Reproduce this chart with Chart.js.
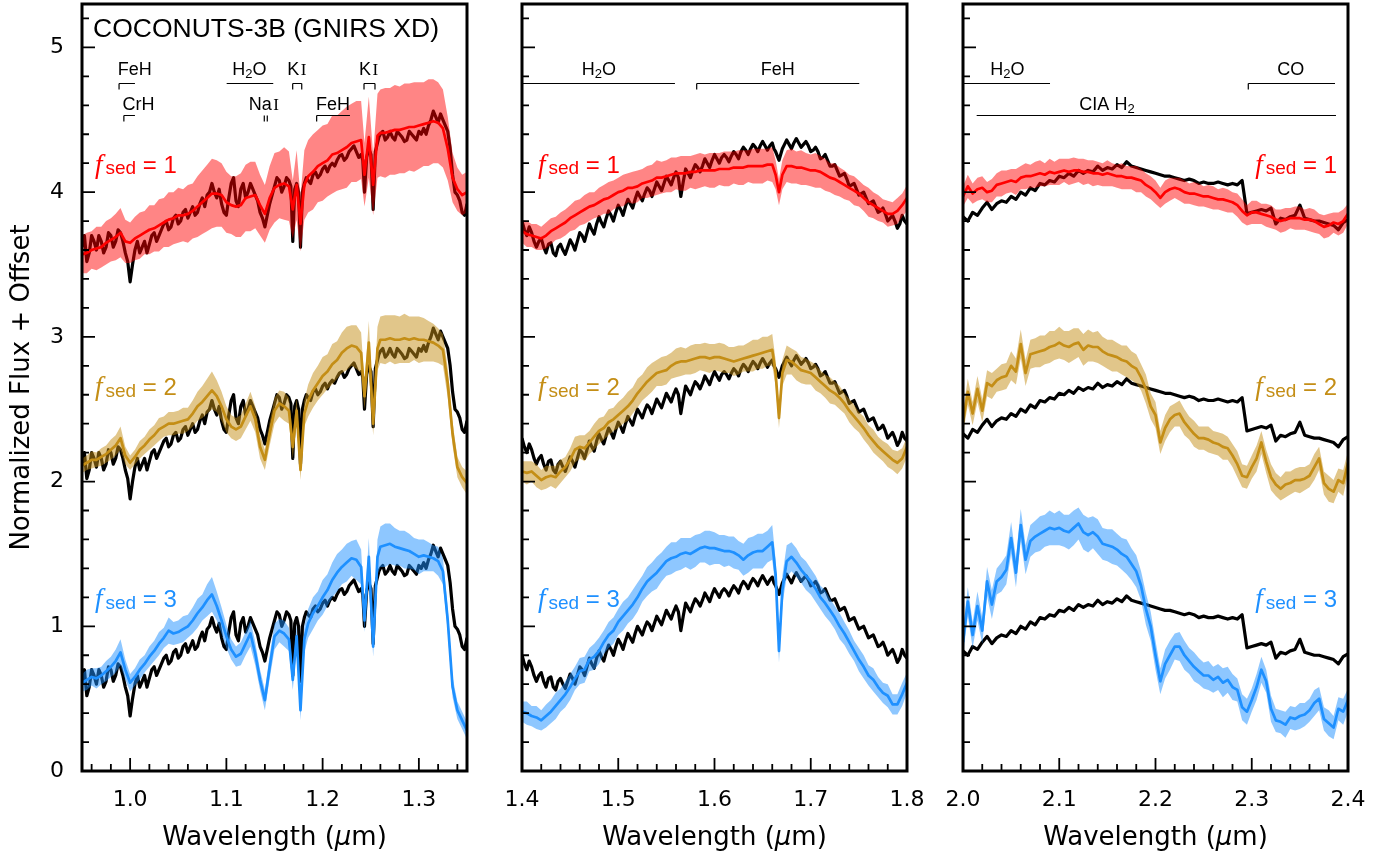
<!DOCTYPE html>
<html><head><meta charset="utf-8">
<script src="https://cdn.jsdelivr.net/npm/chart.js@4.4.1/dist/chart.umd.min.js"></script>
<style>
html,body{margin:0;padding:0;background:#fff;}
#wrap{position:relative;width:1393px;height:852px;overflow:hidden;}
#wrap canvas{position:absolute;left:0;top:0;}
</style></head>
<body><div id="wrap">
<canvas id="c1" width="1393" height="852"></canvas>
<canvas id="c2" width="1393" height="852"></canvas>
<canvas id="c3" width="1393" height="852"></canvas>
</div>
<script>
// ---------------- DATA ----------------
const OFFSETS = [3.0, 1.5, 0.0];          // offsets of observed spectrum for fsed = 1, 2, 3 rows
const FSED_LABELS = ['1', '2', '3'];
const Y_TICKS = [0, 1, 2, 3, 4, 5];
const X_TICKS_1 = [1.0, 1.1, 1.2, 1.3];
const X_TICKS_2 = [1.4, 1.5, 1.6, 1.7, 1.8];
const X_TICKS_3 = [2.0, 2.1, 2.2, 2.3, 2.4];

// Panel 1 (0.95 - 1.35 um)
const WAVE1 = [0.950,0.955,0.960,0.965,0.970,0.975,0.980,0.985,0.990,0.995,1.000,1.005,1.010,1.015,1.020,1.025,1.030,1.035,1.040,1.045,1.050,1.055,1.060,1.065,1.070,1.075,1.080,1.085,1.090,1.095,1.100,1.105,1.110,1.115,1.120,1.125,1.130,1.135,1.140,1.145,1.150,1.155,1.160,1.165,1.169,1.173,1.177,1.181,1.185,1.190,1.195,1.200,1.205,1.210,1.215,1.220,1.225,1.230,1.235,1.240,1.2435,1.248,1.2525,1.257,1.260,1.265,1.270,1.275,1.280,1.285,1.290,1.295,1.300,1.305,1.310,1.315,1.320,1.325,1.330,1.335,1.340,1.345,1.350];
const OBS1 = [0.62,0.52,0.70,0.60,0.66,0.62,0.70,0.66,0.72,0.58, 0.38,0.60,0.58,0.66,0.64,0.72,0.70,0.78,0.74,0.82, 0.78,0.86,0.82,0.90,0.86,0.96,0.98,1.06,0.96,0.92, 0.84,1.06,0.94,1.02,0.96,1.06,0.98,0.86,0.76,0.92, 1.04,1.08,1.04,1.08,0.66,1.06,0.62,1.06,1.08,1.12, 1.10,1.16,1.14,1.20,1.22,1.26,1.24,1.30,1.28,1.26, 1.00,1.30,0.88,1.34,1.40,1.36,1.42,1.36,1.40,1.35, 1.42,1.38,1.42,1.44,1.46,1.56,1.48,1.50,1.42,1.12, 0.98,0.86,0.92];
// observed flux between consecutive WAVE1 samples
const OBS1_MID = [0.70,0.58,0.66,0.70,0.58,0.72,0.62,0.74,0.66,0.52, 0.50,0.66,0.62,0.58,0.70,0.66,0.74,0.80,0.76,0.84, 0.80,0.88,0.86,0.84,0.92,0.90,1.00,1.00,1.02,0.86, 0.96,1.10,0.90,1.06,1.00,1.02,0.94,0.82,0.84,0.98, 1.10,1.00,1.10,1.04,1.02,1.00,1.00,1.10,1.06,1.14, 1.12,1.18,1.18,1.18,1.25,1.22,1.28,1.32,1.24,1.22, 1.24,1.26,1.28,1.38,1.42,1.38,1.38,1.42,1.38,1.36, 1.40,1.36,1.40,1.40,1.50,1.52,1.54,1.46,1.30,1.00, 0.94,0.84];
const MOD1_F1 = [3.57,3.58,3.60,3.61,3.62,3.65,3.67,3.69,3.72,3.66, 3.65,3.68,3.70,3.72,3.74,3.75,3.77,3.79,3.81,3.82, 3.84,3.84,3.85,3.87,3.90,3.93,3.96,3.99,3.99,3.98, 3.93,3.91,3.90,3.91,3.96,3.97,3.98,3.91,3.85,3.96, 4.03,4.05,4.06,4.04,3.88,4.05,3.78,4.05,4.11,4.14, 4.18,4.20,4.22,4.26,4.27,4.29,4.31,4.34,4.35,4.36, 4.12,4.38,4.05,4.39,4.41,4.41,4.42,4.43,4.43,4.44, 4.45,4.45,4.46,4.47,4.48,4.49,4.48,4.44,4.30,4.10, 4.02,3.98,4.00];
const ERR1_F1 = [0.13,0.14,0.13,0.15,0.14,0.15,0.15,0.16,0.17,0.15, 0.14,0.15,0.16,0.15,0.17,0.16,0.18,0.17,0.19,0.18, 0.19,0.18,0.20,0.19,0.21,0.22,0.23,0.24,0.23,0.22, 0.21,0.20,0.21,0.22,0.23,0.24,0.23,0.21,0.20,0.22, 0.24,0.23,0.25,0.24,0.20,0.24,0.19,0.24,0.25,0.26, 0.25,0.26,0.25,0.27,0.26,0.27,0.28,0.27,0.28,0.27, 0.22,0.28,0.21,0.29,0.30,0.31,0.30,0.31,0.30,0.31, 0.30,0.31,0.30,0.29,0.30,0.29,0.28,0.27,0.22,0.17, 0.15,0.14,0.14];
const MOD1_F2 = [2.11,2.13,2.15,2.15,2.17,2.19,2.22,2.25,2.30,2.18, 2.13,2.17,2.22,2.25,2.29,2.32,2.36,2.38,2.40,2.40, 2.41,2.42,2.43,2.47,2.52,2.55,2.59,2.63,2.59,2.52, 2.43,2.38,2.36,2.38,2.45,2.52,2.43,2.24,2.15,2.33, 2.49,2.54,2.52,2.49,2.24,2.49,2.08,2.47,2.56,2.63, 2.68,2.73,2.76,2.81,2.84,2.89,2.92,2.94,2.93,2.89, 2.59,2.96,2.40,2.92,2.98,2.98,2.99,2.98,2.98,2.99, 2.98,2.99,2.98,2.98,2.97,2.96,2.94,2.91,2.68,2.33, 2.10,2.03,1.99];
const ERR1_F2 = [0.05,0.05,0.06,0.05,0.06,0.06,0.07,0.07,0.08,0.06, 0.05,0.05,0.06,0.06,0.07,0.07,0.08,0.07,0.08,0.08, 0.08,0.09,0.08,0.09,0.10,0.11,0.12,0.13,0.11,0.10, 0.09,0.08,0.08,0.08,0.09,0.10,0.09,0.08,0.07,0.08, 0.09,0.09,0.10,0.09,0.08,0.09,0.07,0.09,0.11,0.12, 0.12,0.13,0.12,0.14,0.13,0.14,0.15,0.14,0.15,0.14, 0.09,0.15,0.08,0.15,0.16,0.17,0.16,0.17,0.16,0.17, 0.16,0.15,0.16,0.15,0.14,0.13,0.12,0.11,0.10,0.08, 0.07,0.07,0.08];
const MOD1_F3 = [0.61,0.63,0.65,0.64,0.66,0.69,0.72,0.76,0.82,0.70, 0.61,0.65,0.70,0.74,0.79,0.83,0.88,0.92,0.97,0.95, 0.96,0.98,1.00,1.04,1.09,1.13,1.18,1.22,1.14,1.04, 0.93,0.84,0.79,0.81,0.88,0.95,0.81,0.63,0.49,0.72, 0.93,0.97,0.95,0.91,0.63,0.93,0.42,0.91,1.02,1.09, 1.14,1.20,1.25,1.32,1.37,1.41,1.44,1.47,1.46,1.41, 1.04,1.48,0.86,1.48,1.55,1.56,1.57,1.55,1.54,1.53, 1.52,1.50,1.48,1.49,1.48,1.47,1.45,1.38,1.04,0.58, 0.42,0.35,0.28];
const ERR1_F3 = [0.06,0.07,0.06,0.07,0.06,0.07,0.07,0.08,0.09,0.07, 0.06,0.06,0.07,0.06,0.07,0.07,0.08,0.07,0.09,0.08, 0.08,0.09,0.08,0.09,0.10,0.09,0.11,0.12,0.10,0.09, 0.08,0.07,0.07,0.08,0.08,0.09,0.08,0.07,0.07,0.08, 0.09,0.08,0.09,0.08,0.07,0.08,0.07,0.09,0.10,0.11, 0.10,0.12,0.11,0.12,0.13,0.12,0.13,0.12,0.14,0.12, 0.08,0.13,0.07,0.12,0.14,0.15,0.14,0.13,0.12,0.13, 0.12,0.11,0.12,0.11,0.10,0.09,0.10,0.09,0.08,0.07, 0.06,0.06,0.06];

// Panel 2 (1.4 - 1.8 um)
const WAVE2 = [1.400,1.405,1.410,1.415,1.420,1.425,1.430,1.435,1.440,1.445,1.450,1.455,1.460,1.465,1.470,1.475,1.480,1.485,1.490,1.495,1.500,1.505,1.510,1.515,1.520,1.525,1.530,1.535,1.540,1.545,1.550,1.555,1.560,1.565,1.570,1.575,1.580,1.585,1.590,1.595,1.600,1.605,1.610,1.615,1.620,1.625,1.630,1.635,1.640,1.645,1.650,1.655,1.660,1.6635,1.667,1.6705,1.675,1.680,1.685,1.690,1.695,1.700,1.705,1.710,1.715,1.720,1.725,1.730,1.735,1.740,1.745,1.750,1.755,1.760,1.765,1.770,1.775,1.780,1.785,1.790,1.795,1.800];
const OBS2 = [0.80,0.70,0.72,0.62,0.68,0.58,0.65,0.56,0.64,0.57, 0.67,0.60,0.72,0.66,0.78,0.71,0.83,0.76,0.87,0.80, 0.91,0.84,0.95,0.89,1.00,0.94,1.03,0.97,1.07,1.01, 1.11,1.05,1.14,0.97,1.16,1.10,1.19,1.14,1.23,1.17, 1.26,1.20,1.26,1.21,1.28,1.23,1.31,1.26,1.33,1.28, 1.35,1.29,1.34, 1.28,1.22,1.30, 1.36,1.30,1.37,1.31,1.35,1.28,1.31,1.23,1.26,1.18, 1.19,1.11,1.13,1.04,1.06,0.98,1.00,0.92,0.94,0.86, 0.89,0.80,0.84,0.75,0.84,0.78];
const OBS2_MID = [0.74,0.76,0.66,0.66,0.62,0.64,0.58,0.62,0.60,0.62, 0.64,0.66,0.70,0.72,0.74,0.78,0.79,0.82,0.84,0.86, 0.88,0.90,0.92,0.95,0.97,0.99,1.01,1.02,1.04,1.06, 1.08,1.10,1.10,1.07,1.13,1.15,1.17,1.18,1.20,1.22, 1.23,1.24,1.24,1.25,1.26,1.28,1.29,1.30,1.31,1.32, 1.32,1.32,1.30,1.25,1.26,1.33,1.33,1.34,1.34,1.33, 1.32,1.29,1.28,1.24,1.22,1.18,1.15,1.12,1.09,1.05, 1.02,0.99,0.96,0.93,0.90,0.87,0.85,0.82,0.80,0.78, 0.80];
const MOD2_F1 = [3.73,3.71,3.70,3.69,3.68,3.70,3.73,3.75,3.77,3.79, 3.82,3.84,3.86,3.88,3.90,3.91,3.93,3.95,3.96,3.98, 4.00,4.01,4.03,4.03,4.04,4.06,4.07,4.08,4.10,4.10, 4.11,4.12,4.13,4.13,4.13,4.14,4.14,4.15,4.15,4.15, 4.15,4.16,4.16,4.16,4.17,4.17,4.17,4.18,4.18,4.18, 4.18,4.19,4.19, 4.12,4.00,4.12, 4.18,4.18,4.17,4.17,4.16,4.15,4.15,4.14,4.12,4.10, 4.09,4.07,4.05,4.03,4.01,3.99,3.96,3.93,3.91,3.89, 3.87,3.85,3.85,3.87,3.91,3.96];
const ERR2_F1 = [0.08,0.09,0.08,0.09,0.08,0.09,0.09,0.08,0.09,0.09, 0.09,0.10,0.09,0.10,0.10,0.09,0.10,0.10,0.11,0.10, 0.10,0.11,0.10,0.11,0.11,0.10,0.11,0.11,0.12,0.11, 0.11,0.12,0.11,0.12,0.12,0.11,0.12,0.12,0.11,0.12, 0.12,0.11,0.12,0.12,0.11,0.12,0.12,0.11,0.12,0.12, 0.12,0.11,0.12, 0.10,0.09,0.10, 0.11,0.12,0.11,0.12,0.11,0.11,0.12,0.11,0.11,0.10, 0.11,0.10,0.10,0.09,0.10,0.09,0.09,0.10,0.09,0.09, 0.08,0.09,0.08,0.09,0.08,0.09];
const MOD2_F2 = [2.07,2.06,2.07,2.04,2.01,2.03,2.04,2.03,2.07,2.10, 2.15,2.22,2.24,2.23,2.27,2.31,2.35,2.37,2.41,2.43, 2.46,2.49,2.52,2.56,2.61,2.65,2.69,2.72,2.75,2.76, 2.77,2.80,2.82,2.83,2.83,2.84,2.85,2.86,2.86,2.85, 2.86,2.86,2.85,2.84,2.83,2.84,2.85,2.86,2.87,2.88, 2.89,2.90,2.91, 2.75,2.44,2.75, 2.84,2.83,2.80,2.77,2.76,2.75,2.72,2.69,2.66,2.63, 2.61,2.58,2.54,2.49,2.45,2.41,2.37,2.32,2.28,2.24, 2.21,2.18,2.15,2.13,2.16,2.24];
const ERR2_F2 = [0.07,0.08,0.07,0.08,0.07,0.08,0.07,0.08,0.08,0.07, 0.08,0.09,0.08,0.09,0.08,0.09,0.09,0.08,0.09,0.08, 0.09,0.09,0.10,0.09,0.10,0.09,0.10,0.10,0.09,0.10, 0.10,0.09,0.10,0.10,0.09,0.10,0.10,0.09,0.10,0.10, 0.09,0.10,0.10,0.09,0.10,0.10,0.09,0.10,0.11,0.10, 0.11,0.10,0.11, 0.09,0.07,0.09, 0.10,0.09,0.10,0.09,0.09,0.08,0.09,0.08,0.08,0.09, 0.08,0.08,0.07,0.08,0.08,0.07,0.08,0.07,0.08,0.07, 0.07,0.08,0.07,0.08,0.07,0.07];
const MOD2_F3 = [0.41,0.40,0.38,0.37,0.35,0.38,0.41,0.45,0.49,0.53, 0.58,0.64,0.69,0.70,0.77,0.79,0.83,0.89,0.94,0.97, 1.03,1.07,1.11,1.15,1.20,1.26,1.31,1.34,1.37,1.41, 1.45,1.47,1.48,1.50,1.51,1.50,1.52,1.54,1.55,1.54, 1.54,1.53,1.52,1.52,1.51,1.49,1.46,1.49,1.51,1.52, 1.52,1.55,1.58, 1.36,0.83,1.25, 1.45,1.48,1.44,1.39,1.35,1.31,1.26,1.20,1.16,1.11, 1.06,1.00,0.95,0.89,0.83,0.77,0.72,0.66,0.63,0.58, 0.54,0.52,0.46,0.46,0.53,0.61];
const ERR2_F3 = [0.07,0.08,0.07,0.08,0.07,0.08,0.08,0.09,0.08,0.09, 0.09,0.08,0.09,0.09,0.08,0.09,0.09,0.08,0.09,0.09, 0.09,0.10,0.09,0.10,0.10,0.09,0.10,0.10,0.11,0.10, 0.10,0.11,0.10,0.11,0.10,0.11,0.11,0.10,0.11,0.12, 0.11,0.10,0.11,0.10,0.11,0.10,0.11,0.12,0.11,0.12, 0.12,0.11,0.12, 0.10,0.08,0.10, 0.11,0.10,0.10,0.09,0.10,0.09,0.09,0.08,0.09,0.08, 0.08,0.09,0.08,0.08,0.07,0.08,0.08,0.07,0.08,0.07, 0.07,0.08,0.07,0.07,0.08,0.07];

// Panel 3 (2.0 - 2.4 um)
const WAVE3 = [2.000,2.005,2.010,2.015,2.020,2.025,2.030,2.035,2.040,2.045,2.050,2.055,2.060,2.065,2.070,2.075,2.080,2.085,2.090,2.095,2.100,2.105,2.110,2.115,2.120,2.125,2.130,2.135,2.140,2.145,2.150,2.155,2.160,2.165,2.170,2.175,2.180,2.185,2.190,2.195,2.200,2.205,2.210,2.215,2.220,2.225,2.230,2.235,2.240,2.245,2.250,2.255,2.260,2.265,2.270,2.275,2.280,2.285,2.290,2.295,2.300,2.305,2.310,2.315,2.320,2.325,2.330,2.335,2.340,2.345,2.350,2.355,2.360,2.365,2.370,2.375,2.380,2.385,2.390,2.395,2.400];
const OBS3 = [0.83,0.80,0.86,0.84,0.89,0.93,0.88,0.92,0.94,0.93, 0.97,0.95,1.00,0.98,1.03,1.01,1.06,1.05,1.08,1.07, 1.11,1.10,1.13,1.11,1.15,1.13,1.15,1.14,1.18,1.15, 1.17,1.16,1.19,1.17,1.21,1.18,1.17,1.16,1.15,1.14, 1.13,1.12,1.11,1.11,1.10,1.09,1.08,1.09,1.08,1.06, 1.07,1.06,1.06,1.07,1.06,1.05,1.06,1.05,1.08,0.85, 0.86,0.87,0.88,0.87,0.89,0.78,0.82,0.81,0.83,0.84, 0.91,0.82,0.81,0.80,0.80,0.79,0.78,0.77,0.74,0.79, 0.81];
const MOD3_F1 = [3.97,4.04,3.99,4.02,4.03,4.00,4.01,4.05,4.06,4.07, 4.08,4.07,4.10,4.11,4.11,4.12,4.13,4.12,4.14,4.13, 4.14,4.15,4.14,4.15,4.15,4.14,4.14,4.13,4.13,4.12, 4.13,4.12,4.11,4.11,4.10,4.10,4.09,4.08,4.05,4.03, 4.00,3.96,4.00,4.02,4.03,4.02,4.00,3.99,3.99,3.98, 3.97,3.97,3.96,3.95,3.95,3.94,3.93,3.91,3.87,3.84, 3.86,3.86,3.85,3.84,3.83,3.81,3.80,3.81,3.82,3.82, 3.82,3.81,3.81,3.80,3.78,3.76,3.77,3.79,3.78,3.80, 3.85];
const ERR3_F1 = [0.07,0.08,0.07,0.08,0.08,0.07,0.08,0.08,0.09,0.08, 0.08,0.09,0.08,0.09,0.08,0.09,0.09,0.08,0.09,0.08, 0.09,0.08,0.09,0.09,0.08,0.09,0.08,0.09,0.08,0.08, 0.09,0.08,0.08,0.09,0.08,0.08,0.09,0.08,0.08,0.08, 0.08,0.07,0.08,0.08,0.07,0.08,0.08,0.07,0.08,0.08, 0.07,0.08,0.08,0.07,0.08,0.08,0.07,0.08,0.08,0.07, 0.08,0.08,0.07,0.08,0.08,0.07,0.08,0.08,0.07,0.08, 0.08,0.07,0.08,0.08,0.07,0.08,0.08,0.07,0.08,0.08, 0.07];
const MOD3_F2 = [2.41,2.62,2.47,2.64,2.49,2.68,2.66,2.70,2.72,2.73, 2.80,2.76,2.95,2.75,2.88,2.89,2.90,2.91,2.93,2.94, 2.96,2.94,2.93,2.95,2.96,2.91,2.94,2.93,2.93,2.90, 2.88,2.87,2.86,2.84,2.83,2.80,2.78,2.72,2.64,2.52, 2.46,2.27,2.37,2.43,2.46,2.47,2.41,2.37,2.33,2.30, 2.30,2.29,2.27,2.26,2.24,2.23,2.18,2.12,2.04,2.03, 2.10,2.16,2.27,2.14,2.03,1.98,1.95,1.98,1.99,2.01, 2.01,2.02,2.04,2.10,2.16,1.99,1.95,1.93,2.01,1.99, 2.13];
const ERR3_F2 = [0.08,0.09,0.08,0.09,0.08,0.09,0.09,0.08,0.09,0.09, 0.10,0.09,0.10,0.09,0.10,0.10,0.11,0.10,0.11,0.10, 0.11,0.10,0.11,0.11,0.10,0.11,0.11,0.10,0.11,0.10, 0.10,0.11,0.10,0.10,0.11,0.10,0.10,0.09,0.10,0.09, 0.09,0.08,0.09,0.09,0.08,0.09,0.09,0.08,0.09,0.08, 0.08,0.09,0.08,0.08,0.09,0.08,0.08,0.09,0.08,0.08, 0.08,0.09,0.08,0.08,0.09,0.08,0.08,0.09,0.08,0.08, 0.09,0.08,0.08,0.09,0.08,0.08,0.09,0.08,0.08,0.09, 0.08];
const MOD3_F3 = [0.89,1.17,0.94,1.14,0.97,1.31,1.15,1.31,1.34,1.39, 1.61,1.37,1.70,1.46,1.59,1.62,1.64,1.66,1.68,1.67, 1.68,1.66,1.65,1.68,1.71,1.65,1.63,1.65,1.62,1.57, 1.56,1.55,1.53,1.50,1.48,1.43,1.38,1.28,1.12,1.00, 0.80,0.62,0.74,0.80,0.86,0.86,0.80,0.76,0.72,0.69, 0.66,0.66,0.63,0.65,0.61,0.63,0.58,0.56,0.44,0.41, 0.49,0.58,0.70,0.62,0.43,0.35,0.34,0.32,0.37,0.36, 0.38,0.39,0.42,0.47,0.50,0.36,0.33,0.30,0.43,0.41, 0.49];
const ERR3_F3 = [0.09,0.10,0.09,0.10,0.09,0.10,0.10,0.09,0.10,0.10, 0.11,0.10,0.11,0.10,0.11,0.11,0.12,0.11,0.12,0.11, 0.12,0.11,0.12,0.12,0.11,0.12,0.12,0.11,0.12,0.11, 0.11,0.12,0.11,0.11,0.12,0.11,0.11,0.10,0.11,0.10, 0.10,0.09,0.10,0.10,0.09,0.10,0.10,0.09,0.10,0.09, 0.09,0.10,0.09,0.09,0.10,0.09,0.09,0.08,0.09,0.09, 0.08,0.09,0.09,0.08,0.09,0.08,0.08,0.09,0.08,0.08, 0.09,0.08,0.08,0.09,0.08,0.08,0.09,0.08,0.08,0.09, 0.08];

// Spectral feature annotations: [label, start um, end um, row, bracket style]
const FEATURES_1 = [
  ['FeH', 0.9885, 1.005, 1, 'left'],
  ['CrH', 0.9935, 1.005, 2, 'left'],
  ['H2O', 1.1003, 1.1487, 1, 'none'],
  ['KI',  1.1689, 1.1783, 1, 'both'],
  ['NaI', 1.1394, 1.1425, 2, 'pair'],
  ['FeH', 1.1938, 1.2284, 2, 'left'],
  ['KI',  1.2430, 1.2544, 1, 'both']
];
const FEATURES_2 = [
  ['H2O', 1.30, 1.5589, 1, 'none'],
  ['FeH', 1.5815, 1.7504, 1, 'left']
];
const FEATURES_3 = [
  ['H2O', 1.99, 2.0904, 1, 'none'],
  ['CO', 2.2964, 2.3865, 1, 'left'],
  ['CIA H2', 2.0142, 2.3875, 2, 'none']
];

// ---------------- STYLE / RENDER ----------------
const SANS = '"Liberation Sans", Arial, Helvetica, sans-serif';
const DJV = '"DejaVu Sans", sans-serif';
const SERIF = '"Liberation Serif", "Times New Roman", serif';
const LINE_COLORS = ['rgb(255,0,0)', 'rgb(196,142,22)', 'rgb(30,144,255)'];
const BAND_COLORS = ['rgba(255,0,0,0.48)', 'rgba(196,142,22,0.5)', 'rgba(30,144,255,0.5)'];

Chart.defaults.color = '#000';

function richWidth(ctx, parts) {
  let w = 0;
  for (const p of parts) { ctx.font = p.f; w += ctx.measureText(p.t).width + (p.dx || 0); }
  return w;
}
function drawRich(ctx, parts, x, y, align) {
  const w = richWidth(ctx, parts);
  let cx = align === 'center' ? x - w / 2 : (align === 'right' ? x - w : x);
  ctx.textAlign = 'left'; ctx.textBaseline = 'alphabetic';
  for (const p of parts) {
    ctx.font = p.f;
    cx += (p.dx || 0);
    ctx.fillText(p.t, cx, y + (p.dy || 0));
    cx += ctx.measureText(p.t).width;
  }
}
function labelParts(label) {
  const F = `18px ${SANS}`, SUB = `13px ${SANS}`, RN = `17px ${SERIF}`;
  switch (label) {
    case 'H2O': return [{t:'H', f:F}, {t:'2', f:SUB, dy:3}, {t:'O', f:F}];
    case 'KI': return [{t:'K', f:F}, {t:'I', f:RN, dx:1.5}];
    case 'NaI': return [{t:'Na', f:F}, {t:'I', f:RN, dx:1.5}];
    case 'CIA H2': return [{t:'CIA H', f:F}, {t:'2', f:SUB, dy:3}];
    default: return [{t:label, f:F}];
  }
}

const PANELS = {
  c1: {xmin:0.95, xmax:1.35, left:82, right:467, ticks:X_TICKS_1, wave:WAVE1, obs:OBS1, obsMid:OBS1_MID,
       mods:[MOD1_F1, MOD1_F2, MOD1_F3], errs:[ERR1_F1, ERR1_F2, ERR1_F3], feats:FEATURES_1,
       textAnchor:[[1.0048,'center'],[1.0086,'center'],[1.1240,'center'],[1.1732,'center'],[1.1389,'center'],[1.2108,'center'],[1.2477,'center']],
       fsedX: 13, fsedAlign:'left', title:true, yaxis:true},
  c2: {xmin:1.4, xmax:1.8, left:522, right:907, ticks:X_TICKS_2, wave:WAVE2, obs:OBS2, obsMid:OBS2_MID,
       mods:[MOD2_F1, MOD2_F2, MOD2_F3], errs:[ERR2_F1, ERR2_F2, ERR2_F3], feats:FEATURES_2,
       textAnchor:[[1.4798,'center'],[1.6658,'center']],
       fsedX: 16, fsedAlign:'left', title:false, yaxis:false},
  c3: {xmin:2.0, xmax:2.4, left:963, right:1348, ticks:X_TICKS_3, wave:WAVE3, obs:OBS3, obsMid:null,
       mods:[MOD3_F1, MOD3_F2, MOD3_F3], errs:[ERR3_F1, ERR3_F2, ERR3_F3], feats:FEATURES_3,
       textAnchor:[[2.0462,'center'],[2.3406,'center'],[2.1496,'center']],
       fsedX: -11, fsedAlign:'right', title:false, yaxis:false}
};
const ROW_LINE = {1: 4.755, 2: 4.533};
const ROW_TEXT = {1: 4.810, 2: 4.568};
const FSED_Y = [4.135, 2.598, 1.133];

const decorPlugin = {
  id: 'decor',
  afterDraw(chart) {
    const P = PANELS[chart.canvas.id];
    const {ctx, chartArea: a} = chart;
    const x = chart.scales.x, y = chart.scales.y;
    ctx.save();
    ctx.strokeStyle = '#000'; ctx.fillStyle = '#000'; ctx.lineWidth = 1.2;
    ctx.save();
    ctx.beginPath(); ctx.rect(a.left, a.top, a.right - a.left, a.bottom - a.top); ctx.clip();
    P.feats.forEach((f, i) => {
      const [lab, x0, x1, row, style] = f;
      const px0 = x.getPixelForValue(x0), px1 = x.getPixelForValue(x1);
      const py = Math.round(y.getPixelForValue(ROW_LINE[row])) + 0.5;
      ctx.beginPath();
      if (style === 'pair') {
        ctx.moveTo(px0, py); ctx.lineTo(px0, py + 6);
        ctx.moveTo(px1, py); ctx.lineTo(px1, py + 6);
      } else {
        ctx.moveTo(px0, py); ctx.lineTo(px1, py);
        if (style === 'left' || style === 'both') { ctx.moveTo(px0, py); ctx.lineTo(px0, py + 6); }
        if (style === 'both') { ctx.moveTo(px1, py); ctx.lineTo(px1, py + 6); }
      }
      ctx.stroke();
      const [tx, al] = P.textAnchor[i];
      drawRich(ctx, labelParts(lab), x.getPixelForValue(tx), y.getPixelForValue(ROW_TEXT[row]), al);
    });
    ctx.restore();

    for (let r = 0; r < 3; r++) {
      ctx.fillStyle = LINE_COLORS[r];
      const parts = [{t:'f', f:`italic 27px ${SERIF}`}, {t:'sed', f:`19px ${SANS}`, dx:3, dy:1.5}, {t:' = ' + FSED_LABELS[r], f:`24px ${SANS}`}];
      const px = P.fsedAlign === 'left' ? a.left + P.fsedX : a.right + P.fsedX;
      drawRich(ctx, parts, px, y.getPixelForValue(FSED_Y[r]), P.fsedAlign);
    }

    if (P.title) {
      ctx.fillStyle = '#000';
      drawRich(ctx, [{t:'COCONUTS-3B (GNIRS XD)', f:`26.5px ${SANS}`}], a.left + 11, 36.5, 'left');
    }

    ctx.fillStyle = '#000';
    drawRich(ctx, [{t:'Wavelength (', f:`26px ${DJV}`}, {t:'\u03bc', f:`oblique 26px ${DJV}`}, {t:'m)', f:`26px ${DJV}`}], (a.left + a.right) / 2, 845, 'center');

    ctx.strokeStyle = '#000'; ctx.lineWidth = 1.8;
    ctx.beginPath();
    const k0 = Math.ceil(P.xmin * 50 - 1e-6), k1 = Math.floor(P.xmax * 50 + 1e-6);
    for (let k = k0; k <= k1; k++) {
      const px = x.getPixelForValue(k / 50);
      const L = (k % 5 === 0) ? 13 : 7;
      ctx.moveTo(px, a.bottom); ctx.lineTo(px, a.bottom - L);
    }
    for (let k = 0; k <= 26; k++) {
      const py = y.getPixelForValue(k / 5);
      const L = (k % 5 === 0) ? 13 : 7;
      ctx.moveTo(a.left, py); ctx.lineTo(a.left + L, py);
    }
    ctx.stroke();
    ctx.lineWidth = 3;
    ctx.strokeRect(a.left, a.top, a.right - a.left, a.bottom - a.top);
    ctx.restore();
  }
};

function obsPoints(P, off) {
  const pts = [];
  for (let i = 0; i < P.wave.length; i++) {
    pts.push({x: P.wave[i], y: P.obs[i] + off});
    if (P.obsMid && i < P.wave.length - 1) pts.push({x: (P.wave[i] + P.wave[i + 1]) / 2, y: P.obsMid[i] + off});
  }
  return pts;
}

function buildChart(id) {
  const P = PANELS[id];
  const datasets = [];
  for (let r = 0; r < 3; r++) {
    const m = P.mods[r], e = P.errs[r], off = OFFSETS[r];
    datasets.push({ data: obsPoints(P, off),
      borderColor: '#000', borderWidth: 3.2, fill: false, order: 30 });
    datasets.push({ data: P.wave.map((w, i) => ({x: w, y: m[i] + e[i]})),
      borderColor: 'rgba(0,0,0,0)', borderWidth: 0, backgroundColor: BAND_COLORS[r], fill: '+1', order: 20 });
    datasets.push({ data: P.wave.map((w, i) => ({x: w, y: m[i] - e[i]})),
      borderColor: 'rgba(0,0,0,0)', borderWidth: 0, fill: false, order: 20 });
    datasets.push({ data: P.wave.map((w, i) => ({x: w, y: m[i]})),
      borderColor: LINE_COLORS[r], borderWidth: 2.7, fill: false, order: 10 });
  }
  return new Chart(document.getElementById(id), {
    type: 'line',
    data: { datasets },
    plugins: [decorPlugin],
    options: {
      responsive: false, animation: false, events: [],
      layout: { padding: { left: P.yaxis ? 0 : P.left, right: 1393 - P.right, top: 4, bottom: 0 } },
      elements: { point: { radius: 0 }, line: { tension: 0, borderJoinStyle: 'round' } },
      plugins: { legend: { display: false }, tooltip: { enabled: false } },
      scales: {
        x: {
          type: 'linear', min: P.xmin, max: P.xmax,
          afterBuildTicks: s => { s.ticks = P.ticks.map(v => ({value: v})); },
          afterFit: s => { s.height = 81; s.paddingLeft = 0; s.paddingRight = 0; s.paddingTop = 0; s.paddingBottom = 0; },
          grid: { display: false, drawTicks: false }, border: { display: false },
          ticks: { font: { family: 'DejaVu Sans', size: 22 }, color: '#000', padding: 16,
                   maxRotation: 0, minRotation: 0, autoSkip: false, callback: v => Number(v).toFixed(1) }
        },
        y: {
          type: 'linear', min: 0, max: 5.3, display: P.yaxis,
          afterBuildTicks: s => { s.ticks = Y_TICKS.map(v => ({value: v})); },
          afterFit: s => { s.width = P.yaxis ? 82 : 0; s.paddingTop = 0; s.paddingBottom = 0; s.paddingLeft = 0; s.paddingRight = 0; },
          grid: { display: false, drawTicks: false }, border: { display: false },
          ticks: { font: { family: 'DejaVu Sans', size: 22 }, color: '#000', padding: 18, autoSkip: false,
                   callback: v => String(v) },
          title: { display: P.yaxis, text: 'Normalized Flux + Offset', color: '#000',
                   font: { family: 'DejaVu Sans', size: 26 }, padding: { top: 7, bottom: 0 } }
        }
      }
    }
  });
}
buildChart('c1'); buildChart('c2'); buildChart('c3');
</script>
</body></html>
